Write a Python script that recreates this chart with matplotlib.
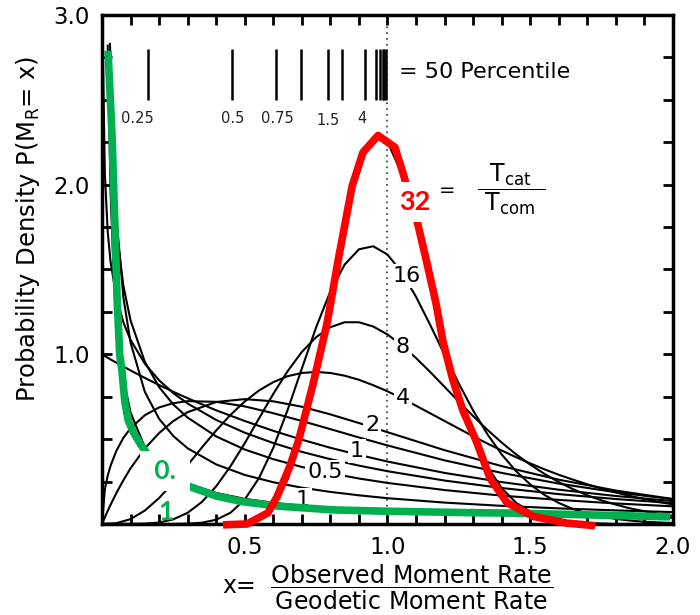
import matplotlib
matplotlib.use("Agg")
import matplotlib.pyplot as plt
from matplotlib.ticker import MultipleLocator

plt.rcParams['font.family'] = ['DejaVu Sans']
plt.rcParams['mathtext.fontset'] = 'dejavusans'

# Data

# Black curves, one per Tcat/Tcom ratio
x_01 = [0.02, 0.03, 0.04, 0.05, 0.075, 0.1, 0.15, 0.2, 0.3, 0.4, 0.5, 0.6, 0.7,
        0.8, 0.9, 1.0, 1.2, 1.4, 1.6, 1.8, 2.0]
y_01 = [2.82, 1.96, 1.51, 1.23, 0.858, 0.657, 0.453, 0.349, 0.239, 0.183, 0.148,
        0.125, 0.107, 0.094, 0.084, 0.0756, 0.0629, 0.0536, 0.0466, 0.0411, 0.0366]

x_025 = [0.028, 0.03, 0.04, 0.05, 0.075, 0.1, 0.15, 0.2, 0.25, 0.3, 0.4, 0.5, 0.6,
         0.7, 0.8, 0.9, 1.0, 1.2, 1.4, 1.6, 1.8, 2.0]
y_025 = [2.83, 2.69, 2.18, 1.82, 1.335, 1.069, 0.779, 0.620, 0.518, 0.446, 0.351,
         0.289, 0.246, 0.214, 0.189, 0.169, 0.152, 0.126, 0.107, 0.092, 0.080, 0.070]

x_05 = [0.0203, 0.03, 0.04, 0.05, 0.075, 0.1, 0.15, 0.2, 0.25, 0.3, 0.4, 0.5, 0.6,
        0.7, 0.8, 0.9, 1.0, 1.2, 1.4, 1.6, 1.8, 2.0]
y_05 = [2.78, 2.27, 1.955, 1.740, 1.403, 1.200, 0.956, 0.807, 0.704, 0.627, 0.516,
        0.439, 0.382, 0.336, 0.299, 0.268, 0.242, 0.200, 0.167, 0.142, 0.121, 0.104]

x_075 = [0.003, 0.01, 0.02, 0.03, 0.05, 0.075, 0.1, 0.15, 0.2, 0.25, 0.3, 0.4, 0.5,
         0.6, 0.7, 0.8, 0.9, 1.0, 1.2, 1.4, 1.6, 1.8, 2.0]
y_075 = [2.79, 2.064, 1.723, 1.546, 1.340, 1.188, 1.085, 0.945, 0.847, 0.771, 0.710,
         0.613, 0.538, 0.477, 0.425, 0.382, 0.344, 0.311, 0.256, 0.212, 0.176, 0.147,
         0.123]

x_mid = [0, 0.01, 0.02, 0.03, 0.05, 0.075, 0.1, 0.15, 0.2, 0.25, 0.3, 0.4, 0.5, 0.6,
         0.7, 0.8, 0.9, 1.0, 1.2, 1.4, 1.6, 1.8, 2.0]
y_1 = [1.0, 0.990, 0.980, 0.970, 0.951, 0.928, 0.905, 0.861, 0.819, 0.779, 0.741,
       0.670, 0.607, 0.549, 0.497, 0.449, 0.407, 0.368, 0.301, 0.247, 0.202, 0.165,
       0.135]
y_15 = [0, 0.204, 0.285, 0.343, 0.430, 0.508, 0.564, 0.641, 0.687, 0.712, 0.724,
        0.720, 0.693, 0.653, 0.607, 0.559, 0.510, 0.463, 0.375, 0.301, 0.238, 0.187,
        0.146]
y_2 = [0, 0.039, 0.077, 0.113, 0.181, 0.258, 0.328, 0.445, 0.536, 0.607, 0.659,
       0.719, 0.736, 0.723, 0.691, 0.646, 0.595, 0.541, 0.435, 0.341, 0.261, 0.197,
       0.147]

x_peak = [0, 0.05, 0.1, 0.15, 0.2, 0.25, 0.3, 0.35, 0.4, 0.45, 0.5, 0.55, 0.6, 0.65,
          0.7, 0.75, 0.8, 0.85, 0.9, 0.95, 1.0, 1.05, 1.1, 1.15, 1.2, 1.25, 1.3,
          1.35, 1.4, 1.45, 1.5, 1.55, 1.6, 1.65, 1.7, 1.75, 1.8, 1.85, 1.9, 1.95, 2.0]
y_4 = [0, 0.0044, 0.0286, 0.079, 0.153, 0.245, 0.347, 0.451, 0.551, 0.643, 0.722,
       0.787, 0.836, 0.871, 0.890, 0.896, 0.890, 0.874, 0.850, 0.818, 0.782, 0.741,
       0.697, 0.652, 0.607, 0.562, 0.517, 0.474, 0.433, 0.394, 0.357, 0.322, 0.290,
       0.261, 0.234, 0.209, 0.186, 0.165, 0.147, 0.130, 0.115]
y_8 = [0, 0, 0.0002, 0.0017, 0.0086, 0.0275, 0.066, 0.130, 0.222, 0.340, 0.476,
       0.622, 0.767, 0.900, 1.014, 1.101, 1.160, 1.189, 1.189, 1.164, 1.117, 1.053,
       0.978, 0.895, 0.808, 0.721, 0.636, 0.555, 0.480, 0.411, 0.350, 0.295, 0.247,
       0.205, 0.169, 0.139, 0.114, 0.092, 0.075, 0.060, 0.048]
y_16 = [0, 0, 0, 0, 0, 0, 0.0017, 0.0076, 0.025, 0.066, 0.144, 0.271, 0.449, 0.671,
        0.916, 1.159, 1.371, 1.529, 1.619, 1.637, 1.588, 1.483, 1.339, 1.172, 0.997,
        0.827, 0.669, 0.529, 0.410, 0.312, 0.233, 0.171, 0.124, 0.088, 0.062, 0.043,
        0.030, 0.020, 0.013, 0.009, 0.006]
y_32 = [0, 0, 0, 0, 0, 0, 0, 0, 0, 0.0018, 0.0093, 0.036, 0.108, 0.261, 0.525, 0.899,
        1.343, 1.775, 2.109, 2.275, 2.253, 2.064, 1.762, 1.411, 1.066, 0.763, 0.520,
        0.338, 0.211, 0.126, 0.073, 0.041, 0.022, 0.012, 0.006, 0.003, 0, 0, 0, 0, 0]

# Hand-drawn overlays
x_red = [0.424, 0.508, 0.581, 0.613, 0.658, 0.69, 0.74, 0.788, 0.83, 0.876, 0.914,
         0.967, 1.026, 1.054, 1.103, 1.138, 1.17, 1.195, 1.229, 1.264, 1.313, 1.359,
         1.419, 1.51, 1.628, 1.727]
y_red = [-0.005, 0.0, 0.065, 0.16, 0.34, 0.5, 0.83, 1.18, 1.58, 1.99, 2.19, 2.29,
         2.22, 2.07, 1.79, 1.54, 1.30, 1.07, 0.85, 0.67, 0.48, 0.27, 0.125, 0.045,
         0.005, -0.01]

x_green = [0.021, 0.035, 0.046, 0.053, 0.062, 0.07, 0.08, 0.092, 0.11, 0.135, 0.2,
           0.308, 0.40, 0.49, 0.62, 0.81, 1.0, 1.32, 1.45, 1.99]
y_green = [2.79, 2.30, 1.71, 1.32, 1.0, 0.90, 0.72, 0.61, 0.54, 0.47, 0.31, 0.22,
           0.165, 0.132, 0.105, 0.083, 0.075, 0.066, 0.064, 0.042]

# 50 percentile marks
pct_marks = [0.161, 0.455, 0.609, 0.697, 0.792, 0.841, 0.921, 0.961, 0.973,
             0.984, 0.989, 0.994]
pct_label_text = ['0.25', '0.5', '0.75', '1.5', '4']
pct_label_x = [0.124, 0.459, 0.613, 0.792, 0.911]
pct_label_y = [2.39, 2.39, 2.39, 2.38, 2.39]

# Inline curve labels
curve_label_text = ['16', '8', '4', '2', '1', '0.5', '1']
curve_label_x = [1.068, 1.054, 1.054, 0.946, 0.893, 0.781, 0.704]
curve_label_y = [1.462, 1.043, 0.743, 0.583, 0.430, 0.306, 0.141]

x_ticks = [0.5, 1.0, 1.5, 2.0]
x_tick_labels = ['0.5', '1.0', '1.5', '2.0']
y_ticks = [1.0, 2.0, 3.0]
y_tick_labels = ['1.0', '2.0', '3.0']


# Plot
fig = plt.figure(figsize=(7, 6.15), dpi=100)
ax = fig.add_axes([0.1457, 0.148, 0.8157, 0.8276])

black_curves = [(x_01, y_01), (x_025, y_025), (x_05, y_05), (x_075, y_075),
                (x_mid, y_1), (x_mid, y_15), (x_mid, y_2),
                (x_peak, y_4), (x_peak, y_8), (x_peak, y_16), (x_peak, y_32)]
for xs, ys in black_curves:
    ax.plot(xs, ys, color='black', lw=1.5, zorder=2)

# dotted line at x = 1
ax.axvline(1.0, color='#333333', lw=1.2, ls=(0, (1, 2.5)), zorder=1)

# percentile marks and labels
ax.vlines(pct_marks, 2.5, 2.8, color='black', lw=1.8, zorder=2)
for t, px, py in zip(pct_label_text, pct_label_x, pct_label_y):
    ax.text(px, py, t, fontsize=10.5, ha='center', va='center', color='#222222')
ax.text(1.04, 2.664, '= 50 Percentile', fontsize=16, ha='left', va='center')

# Tcat / Tcom
ax.text(1.208, 1.968, '=', fontsize=14, ha='center', va='center')
ax.text(1.433, 1.975,
        r'$\dfrac{\mathregular{\ T_{cat}\ }}{\mathregular{\ T_{com}\ }}$',
        fontsize=17, ha='center', va='center')

# curve labels
for t, lx, ly in zip(curve_label_text, curve_label_x, curve_label_y):
    ax.text(lx, ly, t, fontsize=16, ha='center', va='center', zorder=3,
            bbox=dict(boxstyle='square,pad=0.1', fc='white', ec='none'))

# green overlay
ax.plot(x_green, y_green, color='#00B050', lw=5.5, solid_capstyle='butt',
        solid_joinstyle='round', zorder=4, clip_on=False)
ax.text(0.222, 0.31, ' 0. ', color='#00B050', fontsize=19, fontweight='bold',
        family=['Lato', 'DejaVu Sans'], ha='center', va='center', zorder=5,
        bbox=dict(boxstyle='square,pad=0.3', fc='white', ec='none'))
ax.text(0.224, 0.071, '1', color='#00B050', fontsize=19, fontweight='bold',
        family=['Lato', 'DejaVu Sans'], ha='center', va='center', zorder=5)

# red overlay
ax.plot(x_red, y_red, color='#FF0000', lw=5.5, solid_capstyle='butt',
        solid_joinstyle='round', zorder=6, clip_on=False)
ax.text(1.096, 1.898, '32', color='#FF0000', fontsize=19.5, fontweight='bold',
        family=['Lato', 'DejaVu Sans'], ha='center', va='center', zorder=7,
        bbox=dict(boxstyle='square,pad=0.3', fc='white', ec='none'))

# axes
ax.set_xlim(0, 2)
ax.set_ylim(0, 3)
ax.set_xticks(x_ticks)
ax.set_xticklabels(x_tick_labels)
ax.set_yticks(y_ticks)
ax.set_yticklabels(y_tick_labels)
ax.xaxis.set_minor_locator(MultipleLocator(0.1))
ax.yaxis.set_minor_locator(MultipleLocator(0.25))
ax.tick_params(which='both', direction='in', top=True, right=True,
               length=7, width=2)
ax.tick_params(which='major', labelsize=16.5, pad=9)
for sp in ax.spines.values():
    sp.set_linewidth(2.5)

ax.set_xlabel(r'x=  $\dfrac{\mathregular{Observed\ Moment\ Rate}}'
              r'{\mathregular{Geodetic\ Moment\ Rate}}$', fontsize=17, labelpad=2)
ax.set_ylabel(r'Probability Density P(M$_\mathregular{R}$= x)', fontsize=17.5)
ax.yaxis.set_label_coords(-0.105, 0.58)

fig.savefig('out.png', dpi=100)
